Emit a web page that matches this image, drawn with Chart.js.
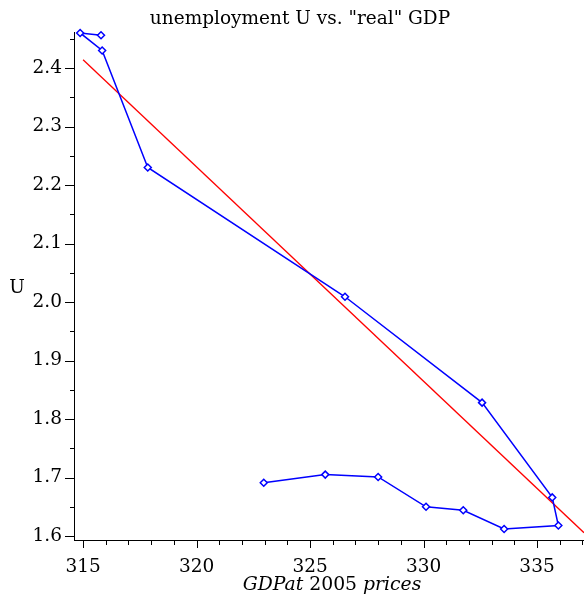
<!DOCTYPE html>
<html>
<head>
<meta charset="utf-8">
<script src="https://cdn.jsdelivr.net/npm/chart.js@4"></script>
<style>
  html, body { margin: 0; padding: 0; background: #fff; }
  #wrap { width: 584px; height: 594px; }
</style>
</head>
<body>
<div id="wrap"><canvas id="grafico" width="584" height="594"></canvas></div>
<script>
// datos (orden en que se une la linea)
const gdp = [315.79, 314.87, 315.84, 317.85, 326.54, 332.58, 335.67, 335.94, 333.55, 331.75, 330.11, 328.0, 325.67, 322.96];
const paro = [2.456, 2.460, 2.430, 2.230, 2.009, 1.828, 1.666, 1.618, 1.612, 1.644, 1.650, 1.701, 1.705, 1.691];

// recta de ajuste (extremos)
const ajusteX = [315.0, 337.07];
const ajusteY = [2.414, 1.6056];

// marcas de los ejes
const marcasX = [315, 316, 317, 318, 319, 320, 321, 322, 323, 324, 325, 326, 327, 328, 329, 330, 331, 332, 333, 334, 335, 336, 337];
const marcasY = [1.6, 1.65, 1.7, 1.75, 1.8, 1.85, 1.9, 1.95, 2.0, 2.05, 2.1, 2.15, 2.2, 2.25, 2.3, 2.35, 2.4, 2.45];

const xMin = 314.6, xMax = 337.07;
const yMin = 1.5932, yMax = 2.4616;

const titulo = 'unemployment U vs. "real" GDP';
const serif = "'DejaVu Serif', serif";

const cerca = (v, paso) => Math.abs(v / paso - Math.round(v / paso)) < 1e-6;

// marcas mayores y menores, y los textos, a mano
const marcas = {
  id: 'marcas',
  afterDraw(chart) {
    const { ctx, chartArea, scales } = chart;
    ctx.save();
    ctx.strokeStyle = '#000';
    ctx.lineWidth = 1;
    ctx.beginPath();
    scales.x.ticks.forEach(t => {
      const px = Math.round(scales.x.getPixelForValue(t.value)) + 0.5;
      const len = cerca(t.value, 5) ? 8 : 5;
      ctx.moveTo(px, chartArea.bottom);
      ctx.lineTo(px, chartArea.bottom + len);
    });
    scales.y.ticks.forEach(t => {
      const py = Math.round(scales.y.getPixelForValue(t.value)) + 0.5;
      const len = cerca(t.value, 0.1) ? 9 : 4;
      ctx.moveTo(chartArea.left, py);
      ctx.lineTo(chartArea.left - len, py);
    });
    ctx.stroke();

    ctx.fillStyle = '#000';
    ctx.textBaseline = 'alphabetic';
    ctx.textAlign = 'center';
    ctx.font = '18.5px ' + serif;
    ctx.fillText(titulo, 300, 24);
    ctx.fillText('U', 17, 293);

    const partes = [
      ['GDPat', 'italic 18.8px ' + serif],
      [' 2005 ', '18.8px ' + serif],
      ['prices', 'italic 18.8px ' + serif]
    ];
    let ancho = 0;
    partes.forEach(p => { ctx.font = p[1]; ancho += ctx.measureText(p[0]).width; });
    let x = 332 - ancho / 2;
    ctx.textAlign = 'left';
    partes.forEach(p => {
      ctx.font = p[1];
      ctx.fillText(p[0], x, 590);
      x += ctx.measureText(p[0]).width;
    });
    ctx.restore();
  }
};

new Chart(document.getElementById('grafico'), {
  type: 'scatter',
  data: {
    datasets: [
      {
        label: 'U',
        data: gdp.map((g, i) => ({ x: g, y: paro[i] })),
        showLine: true,
        borderColor: '#0000ff',
        borderWidth: 1.5,
        pointStyle: 'rectRot',
        pointRadius: 3.5,
        pointBorderWidth: 1.5,
        pointBackgroundColor: '#ffffff',
        pointBorderColor: '#0000ff',
        clip: false,
        order: 1
      },
      {
        label: 'ajuste',
        data: ajusteX.map((g, i) => ({ x: g, y: ajusteY[i] })),
        showLine: true,
        borderColor: '#ff0000',
        borderWidth: 1.3,
        pointRadius: 0,
        order: 2
      }
    ]
  },
  options: {
    responsive: false,
    animation: false,
    events: [],
    layout: { padding: { top: 32, left: 0, right: 0, bottom: 0 }, autoPadding: false },
    plugins: {
      legend: { display: false },
      tooltip: { enabled: false },
      title: { display: false }
    },
    scales: {
      x: {
        type: 'linear',
        min: xMin,
        max: xMax,
        afterBuildTicks: s => { s.ticks = marcasX.map(v => ({ value: v })); },
        afterFit: s => { s.height = 54; s.paddingLeft = 0; s.paddingRight = 0; },
        grid: { display: true, drawOnChartArea: false, drawTicks: false },
        border: { display: true, color: '#000', width: 1 },
        ticks: {
          autoSkip: false,
          maxRotation: 0,
          padding: 16,
          color: '#000',
          font: { family: serif, size: 18.5 },
          callback: v => cerca(v, 5) ? String(Math.round(v)) : ''
        }
      },
      y: {
        type: 'linear',
        min: yMin,
        max: yMax,
        afterBuildTicks: s => { s.ticks = marcasY.map(v => ({ value: v })); },
        afterFit: s => { s.width = 74; s.paddingTop = 0; s.paddingBottom = 0; },
        grid: { display: true, drawOnChartArea: false, drawTicks: false },
        border: { display: true, color: '#000', width: 1 },
        ticks: {
          autoSkip: false,
          padding: 12,
          color: '#000',
          font: { family: serif, size: 18.5 },
          callback: v => cerca(v, 0.1) ? v.toFixed(1) : ''
        }
      }
    }
  },
  plugins: [marcas]
});
</script>
</body>
</html>
